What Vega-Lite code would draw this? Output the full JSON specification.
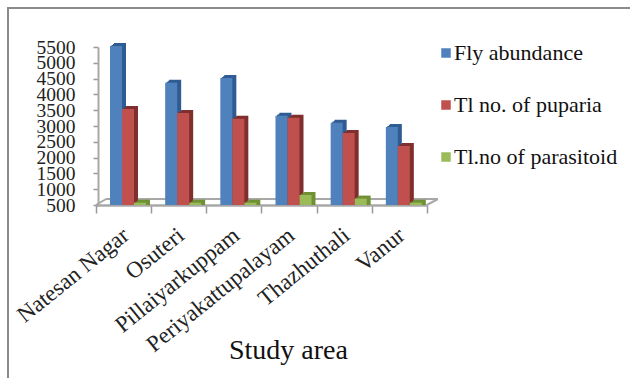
{
  "$schema": "https://vega.github.io/schema/vega-lite/v6.json",
  "autosize": {"type": "none"},
  "padding": {"left": 8, "top": 8, "right": -10, "bottom": -10},
  "width": 632,
  "height": 380,
  "background": "#ffffff",
  "view": {"stroke": "#8a8a8a", "strokeWidth": 2, "fill": "#ffffff"},
  "config": {"font": "Liberation Serif"},
  "datasets": {
    "counts": [
      {"area": "Natesan Nagar", "series": "Fly abundance", "count": 5470},
      {"area": "Natesan Nagar", "series": "Tl no. of puparia", "count": 3475},
      {"area": "Natesan Nagar", "series": "Tl.no of parasitoid", "count": 510},
      {"area": "Osuteri", "series": "Fly abundance", "count": 4307},
      {"area": "Osuteri", "series": "Tl no. of puparia", "count": 3348},
      {"area": "Osuteri", "series": "Tl.no of parasitoid", "count": 510},
      {"area": "Pillaiyarkuppam", "series": "Fly abundance", "count": 4455},
      {"area": "Pillaiyarkuppam", "series": "Tl no. of puparia", "count": 3168},
      {"area": "Pillaiyarkuppam", "series": "Tl.no of parasitoid", "count": 510},
      {"area": "Periyakattupalayam", "series": "Fly abundance", "count": 3263},
      {"area": "Periyakattupalayam", "series": "Tl no. of puparia", "count": 3200},
      {"area": "Periyakattupalayam", "series": "Tl.no of parasitoid", "count": 753},
      {"area": "Thazhuthali", "series": "Fly abundance", "count": 3040},
      {"area": "Thazhuthali", "series": "Tl no. of puparia", "count": 2715},
      {"area": "Thazhuthali", "series": "Tl.no of parasitoid", "count": 640},
      {"area": "Vanur", "series": "Fly abundance", "count": 2905},
      {"area": "Vanur", "series": "Tl no. of puparia", "count": 2304},
      {"area": "Vanur", "series": "Tl.no of parasitoid", "count": 510}
    ],
    "floor": [{"first": "Natesan Nagar", "last": "Vanur", "base": 500}]
  },
  "encoding": {
    "x": {
      "field": "area", "type": "nominal", "sort": null,
      "scale": {
        "domain": ["Natesan Nagar", "Osuteri", "Pillaiyarkuppam", "Periyakattupalayam", "Thazhuthali", "Vanur"],
        "range": [88, 419], "paddingInner": 0, "paddingOuter": 0
      },
      "axis": {
        "orient": "bottom", "offset": -183, "title": "Study area",
        "titleFont": "Liberation Serif", "titleFontSize": 28, "titleFontWeight": "normal", "titleColor": "#111111",
        "titleX": 280, "titleY": 145, "titleAlign": "center", "titleBaseline": "middle",
        "labelAngle": -39, "labelAlign": "right", "labelBaseline": "middle", "labelPadding": 19, "labelOffset": 2, "labelLimit": 0,
        "labelFont": "Liberation Serif", "labelFontSize": 23, "labelColor": "#222222", "labelOverlap": false,
        "tickBand": "extent", "tickSize": 8, "tickColor": "#9a9a9a", "tickWidth": 1.5,
        "domainColor": "#a8a8a8", "domainWidth": 2.5, "grid": false
      }
    },
    "y": {
      "field": "count", "type": "quantitative",
      "scale": {"domain": [500, 5500], "range": [197, 39], "zero": false, "nice": false},
      "axis": {
        "orient": "left", "offset": -90, "title": null, "format": "d",
        "values": [500, 1000, 1500, 2000, 2500, 3000, 3500, 4000, 4500, 5000, 5500],
        "labelFont": "Liberation Serif", "labelFontSize": 19.5, "labelColor": "#222222", "labelOverlap": false, "labelPadding": 18,
        "tickSize": 5, "tickColor": "#9a9a9a", "tickWidth": 1.5,
        "domainColor": "#a8a8a8", "domainWidth": 2, "grid": false
      }
    },
    "y2": {"datum": 500}
  },
  "resolve": {"scale": {"xOffset": "independent"}},
  "layer": [
    {
      "data": {"name": "floor"},
      "mark": {"type": "rule", "color": "#a8a8a8", "strokeWidth": 2, "xOffset": 10, "x2Offset": 38.5, "yOffset": -6, "y2Offset": -6},
      "encoding": {
        "x": {"field": "first", "type": "nominal", "bandPosition": 0},
        "x2": {"field": "last"},
        "y": {"field": "base", "type": "quantitative"},
        "y2": {"field": "base"}
      }
    },
    {
      "data": {"name": "floor"},
      "mark": {"type": "rule", "color": "#a8a8a8", "strokeWidth": 2, "xOffset": 0, "x2Offset": -17.5, "yOffset": 0, "y2Offset": -6},
      "encoding": {
        "x": {"field": "first", "type": "nominal", "bandPosition": 0},
        "x2": {"field": "first"},
        "y": {"field": "base", "type": "quantitative"},
        "y2": {"field": "base"}
      }
    },
    {
      "data": {"name": "floor"},
      "mark": {"type": "rule", "color": "#a8a8a8", "strokeWidth": 2, "xOffset": 55, "x2Offset": 38.5, "yOffset": 0, "y2Offset": -6},
      "encoding": {
        "x": {"field": "last", "type": "nominal", "bandPosition": 0},
        "x2": {"field": "last"},
        "y": {"field": "base", "type": "quantitative"},
        "y2": {"field": "base"}
      }
    },
    {
      "data": {"name": "counts"},
      "mark": {"type": "bar", "yOffset": -5},
      "encoding": {
        "xOffset": {"field": "series", "type": "nominal", "sort": null, "scale": {"range": [18, 54], "paddingInner": 0, "paddingOuter": 0}},
        "fill": {"field": "series", "type": "nominal", "sort": null, "legend": null, "scale": {"range": ["#2f5c92", "#7f2f2d", "#6f9134"]}}
      }
    },
    {
      "data": {"name": "counts"},
      "mark": {"type": "bar", "yOffset": -4},
      "encoding": {
        "xOffset": {"field": "series", "type": "nominal", "sort": null, "scale": {"range": [17, 53], "paddingInner": 0, "paddingOuter": 0}},
        "fill": {"field": "series", "type": "nominal", "sort": null, "legend": null}
      }
    },
    {
      "data": {"name": "counts"},
      "mark": {"type": "bar", "yOffset": -3},
      "encoding": {
        "xOffset": {"field": "series", "type": "nominal", "sort": null, "scale": {"range": [15.5, 51.5], "paddingInner": 0, "paddingOuter": 0}},
        "fill": {"field": "series", "type": "nominal", "sort": null, "legend": null}
      }
    },
    {
      "data": {"name": "counts"},
      "mark": {"type": "bar", "yOffset": -2},
      "encoding": {
        "xOffset": {"field": "series", "type": "nominal", "sort": null, "scale": {"range": [14, 50], "paddingInner": 0, "paddingOuter": 0}},
        "color": {
          "field": "series", "type": "nominal", "sort": null,
          "scale": {"range": ["#4f81bd", "#c0504d", "#9bbb59"]},
          "legend": {
            "orient": "none", "legendX": 427, "legendY": 34, "title": null,
            "symbolType": "square", "symbolSize": 90, "rowPadding": 30,
            "labelFont": "Liberation Serif", "labelFontSize": 22, "labelColor": "#111111", "labelOffset": -3, "labelLimit": 0
          }
        }
      }
    }
  ]
}
